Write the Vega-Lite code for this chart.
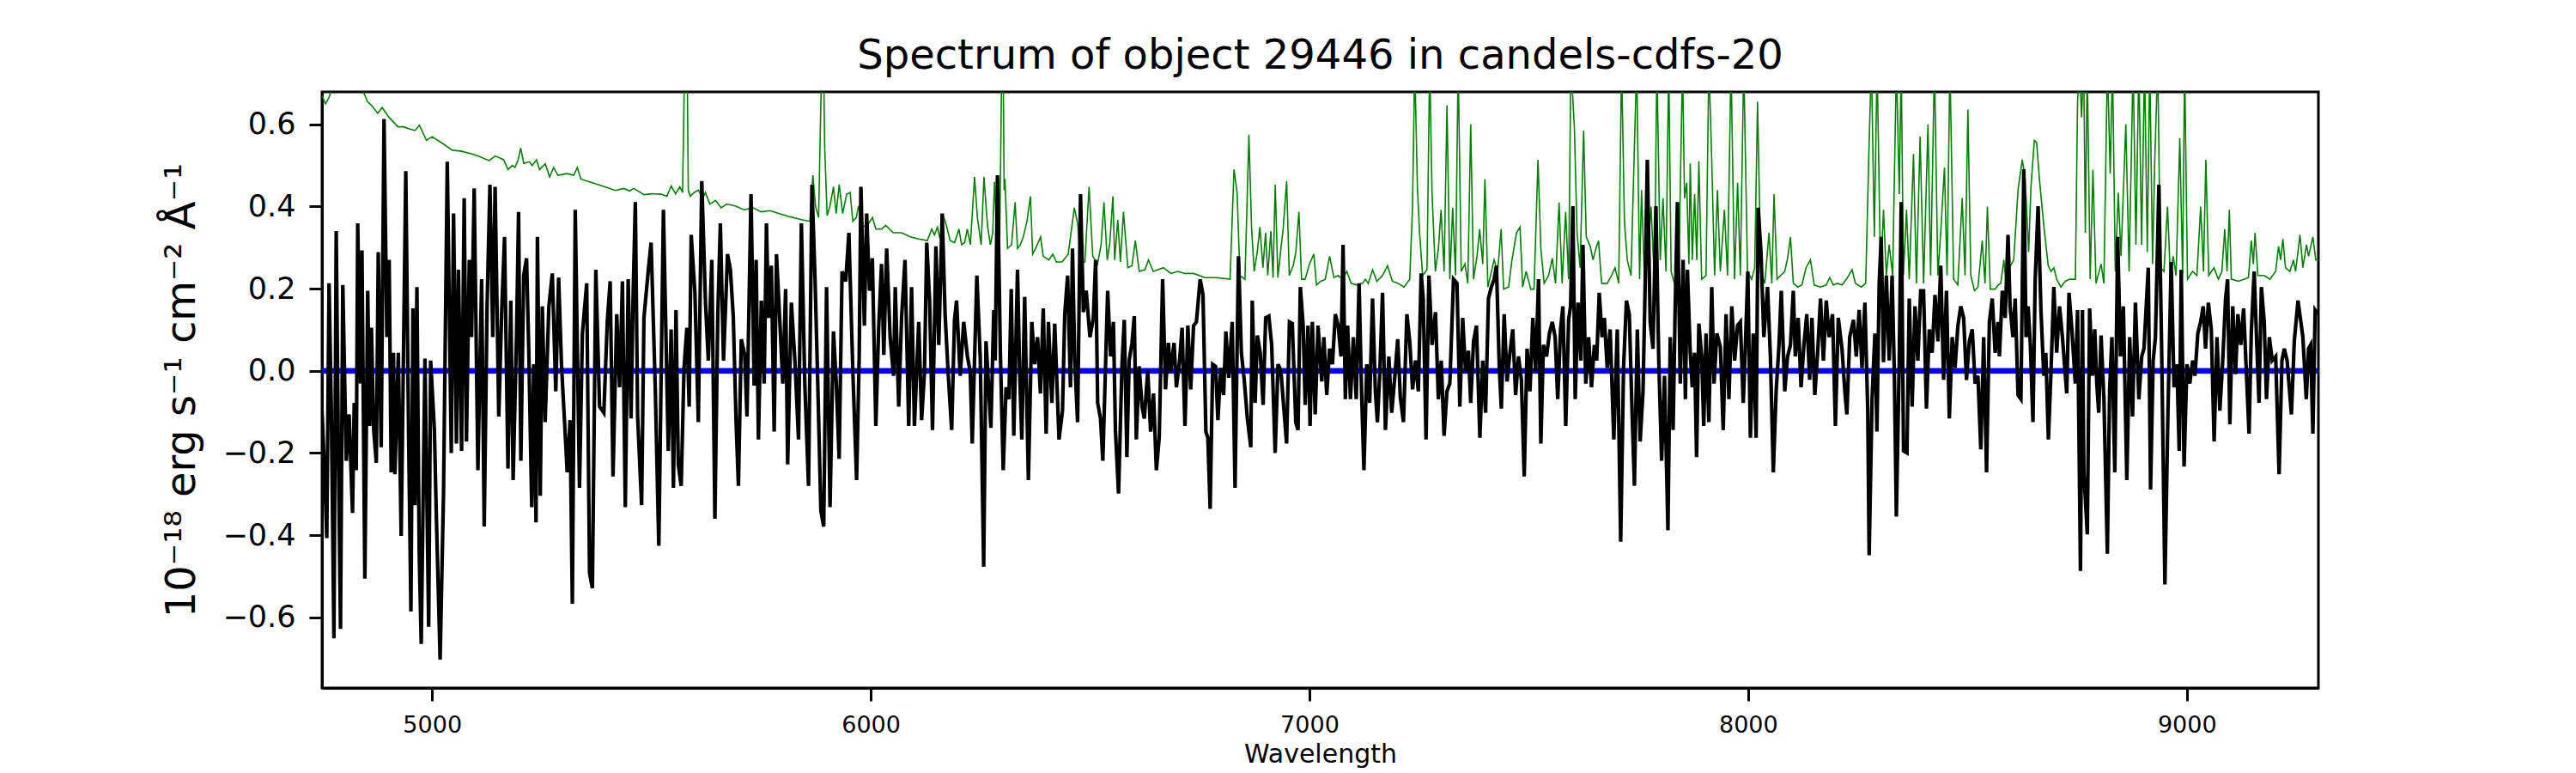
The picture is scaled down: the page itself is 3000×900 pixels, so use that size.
{
  "$schema": "https://vega.github.io/schema/vega-lite/v6.json",
  "autosize": {"type": "none"},
  "padding": {"left": 375, "top": 107, "right": 300, "bottom": 99},
  "width": 2325,
  "height": 694,
  "background": "white",
  "title": {
    "text": "Spectrum of object 29446 in candels-cdfs-20",
    "fontSize": 48,
    "fontWeight": "normal",
    "anchor": "middle",
    "baseline": "alphabetic",
    "offset": 14,
    "dy": 35
  },
  "datasets": {
    "flux": [
      {"w":4749,"f":-0.097},{"w":4755.3,"f":-0.257},{"w":4759.9,"f":-0.407},{"w":4765.1,"f":0.213},{"w":4770.3,"f":-0.097},{"w":4776.2,"f":-0.651},{"w":4781.4,"f":0.34},{"w":4786,"f":-0.163},{"w":4791.2,"f":-0.628},{"w":4796.4,"f":0.209},
      {"w":4804.3,"f":-0.219},{"w":4810.8,"f":-0.106},{"w":4818.6,"f":-0.346},{"w":4822.5,"f":-0.078},{"w":4827.1,"f":-0.242},{"w":4830.4,"f":0.359},{"w":4836.9,"f":-0.031},{"w":4840.1,"f":0.293},{"w":4846.7,"f":-0.506},{"w":4853.2,"f":0.195},
      {"w":4857.8,"f":-0.134},{"w":4861.7,"f":0.105},{"w":4866.9,"f":-0.144},{"w":4872.8,"f":-0.224},{"w":4877.3,"f":0.289},{"w":4883.9,"f":-0.186},{"w":4890.4,"f":0.613},{"w":4896.9,"f":0.082},{"w":4902.1,"f":0.27},{"w":4906.7,"f":-0.247},
      {"w":4911.9,"f":0.044},{"w":4915.2,"f":-0.252},{"w":4923,"f":0.044},{"w":4929.5,"f":-0.402},{"w":4940,"f":0.486},{"w":4946.5,"f":-0.163},{"w":4951.7,"f":-0.586},{"w":4956.3,"f":0.152},{"w":4960.9,"f":-0.327},{"w":4965.4,"f":0.204},
      {"w":4970.6,"f":-0.445},{"w":4975.2,"f":-0.665},{"w":4983.7,"f":0.03},{"w":4992.2,"f":-0.623},{"w":4996.7,"f":0.025},{"w":5005.2,"f":-0.144},{"w":5009.8,"f":-0.36},{"w":5018.3,"f":-0.703},{"w":5026.1,"f":-0.294},{"w":5034.6,"f":0.509},
      {"w":5043.7,"f":-0.2},{"w":5048.9,"f":0.383},{"w":5055.5,"f":-0.177},{"w":5060,"f":0.246},{"w":5067.2,"f":-0.195},{"w":5073.1,"f":0.42},{"w":5078.3,"f":-0.172},{"w":5084.8,"f":0.27},{"w":5090,"f":0.082},{"w":5095.9,"f":0.444},
      {"w":5104.4,"f":-0.242},{"w":5112.9,"f":0.223},{"w":5118.8,"f":-0.379},{"w":5125.3,"f":0.157},{"w":5131.8,"f":0.453},{"w":5138.3,"f":0.082},{"w":5143.6,"f":0.448},{"w":5152,"f":-0.111},{"w":5158.6,"f":0.143},{"w":5165.1,"f":0.326},
      {"w":5172.9,"f":-0.238},{"w":5179.4,"f":0.171},{"w":5184.7,"f":-0.266},{"w":5192.5,"f":0.091},{"w":5197.1,"f":0.387},{"w":5202.3,"f":-0.219},{"w":5208.8,"f":0.232},{"w":5215.3,"f":0.274},{"w":5220.5,"f":0.044},{"w":5227.1,"f":-0.332},
      {"w":5231.6,"f":0.016},{"w":5236.9,"f":-0.369},{"w":5240.1,"f":0.326},{"w":5246.6,"f":-0.304},{"w":5251.2,"f":0.157},{"w":5257.7,"f":-0.125},{"w":5266.2,"f":0.157},{"w":5274,"f":0.237},{"w":5281.9,"f":-0.05},{"w":5288.4,"f":0.227},
      {"w":5294.9,"f":0.016},{"w":5301.5,"f":-0.116},{"w":5308,"f":-0.247},{"w":5314.5,"f":-0.12},{"w":5319.7,"f":-0.567},{"w":5326.3,"f":0.392},{"w":5336,"f":-0.285},{"w":5342.6,"f":0.091},{"w":5352.4,"f":0.213},{"w":5358.9,"f":-0.492},
      {"w":5365.4,"f":-0.529},{"w":5373.2,"f":0.246},{"w":5381.7,"f":-0.087},{"w":5391.5,"f":-0.102},{"w":5399.3,"f":0.119},{"w":5405.9,"f":0.218},{"w":5412.4,"f":-0.257},{"w":5420.9,"f":0.138},{"w":5427.4,"f":-0.04},{"w":5433.9,"f":0.218},
      {"w":5440.4,"f":-0.332},{"w":5447,"f":0.223},{"w":5453.5,"f":-0.116},{"w":5458.1,"f":0.176},{"w":5463.3,"f":0.411},{"w":5468.5,"f":-0.111},{"w":5477.6,"f":-0.327},{"w":5482.9,"f":0.129},{"w":5492.6,"f":0.242},{"w":5499.2,"f":0.312},
      {"w":5508.9,"f":-0.05},{"w":5516.8,"f":-0.426},{"w":5527.3,"f":0.392},{"w":5538.4,"f":-0.195},{"w":5544.9,"f":0.101},{"w":5550.1,"f":-0.285},{"w":5556,"f":0.148},{"w":5561.2,"f":-0.228},{"w":5567.8,"f":-0.28},{"w":5574.3,"f":0.007},
      {"w":5580.8,"f":0.105},{"w":5586,"f":-0.087},{"w":5590.6,"f":0.331},{"w":5599.1,"f":0.19},{"w":5606.9,"f":-0.125},{"w":5614.7,"f":0.462},{"w":5623.2,"f":0.166},{"w":5629.7,"f":0.025},{"w":5637.6,"f":0.27},{"w":5644.7,"f":-0.36},
      {"w":5651.3,"f":0.138},{"w":5657.1,"f":0.359},{"w":5664.3,"f":0.025},{"w":5673.5,"f":0.284},{"w":5680,"f":0.246},{"w":5686.5,"f":0.133},{"w":5693,"f":-0.125},{"w":5698.3,"f":-0.28},{"w":5704.8,"f":0.077},{"w":5712.6,"f":0.039},
      {"w":5717.8,"f":-0.111},{"w":5727,"f":0.43},{"w":5734.1,"f":-0.036},{"w":5738.7,"f":0.27},{"w":5743.9,"f":-0.167},{"w":5750.5,"f":0.171},{"w":5757,"f":-0.031},{"w":5762.2,"f":0.359},{"w":5766.8,"f":0.129},{"w":5773.3,"f":0.256},
      {"w":5779.8,"f":-0.148},{"w":5785,"f":0.284},{"w":5792.9,"f":0.115},{"w":5799.4,"f":-0.031},{"w":5805.9,"f":0.199},{"w":5810.5,"f":-0.228},{"w":5819,"f":0.166},{"w":5827.5,"f":0.016},{"w":5835.3,"f":-0.167},{"w":5841.8,"f":0.359},
      {"w":5849.6,"f":-0.031},{"w":5858.1,"f":-0.28},{"w":5865.9,"f":0.453},{"w":5873.1,"f":0.218},{"w":5879.6,"f":-0.05},{"w":5886.2,"f":-0.341},{"w":5892.7,"f":-0.379},{"w":5899.2,"f":0.204},{"w":5907.1,"f":-0.332},{"w":5914.9,"f":0.096},
      {"w":5921.4,"f":-0.031},{"w":5927.9,"f":-0.214},{"w":5934.5,"f":0.242},{"w":5942.9,"f":0.218},{"w":5950.1,"f":0.336},{"w":5959.3,"f":-0.008},{"w":5967.7,"f":-0.266},{"w":5973.6,"f":0.035},{"w":5977.5,"f":0.448},{"w":5985.4,"f":0.11},
      {"w":5990.6,"f":0.383},{"w":5997.1,"f":0.195},{"w":6003.6,"f":0.274},{"w":6011.5,"f":-0.134},{"w":6018,"f":0.105},{"w":6024.5,"f":0.26},{"w":6029.7,"f":0.039},{"w":6036.2,"f":0.298},{"w":6044.1,"f":0.082},{"w":6051.9,"f":-0.012},
      {"w":6055.8,"f":0.204},{"w":6063.7,"f":-0.087},{"w":6070.2,"f":0.129},{"w":6078,"f":0.27},{"w":6086.5,"f":-0.134},{"w":6093,"f":0.204},{"w":6099.5,"f":-0.134},{"w":6109.3,"f":0.119},{"w":6115.9,"f":-0.12},{"w":6122.4,"f":-0.003},
      {"w":6127.6,"f":0.312},{"w":6134.1,"f":0.171},{"w":6140.7,"f":-0.144},{"w":6148.5,"f":0.303},{"w":6155,"f":0.063},{"w":6162.8,"f":0.383},{"w":6169.4,"f":0.138},{"w":6176.5,"f":-0.008},{"w":6184.4,"f":-0.144},{"w":6190.9,"f":0.124},
      {"w":6195.5,"f":0.171},{"w":6203.9,"f":-0.012},{"w":6211.8,"f":0.119},{"w":6220.3,"f":0.035},{"w":6226.8,"f":-0.003},{"w":6231.3,"f":-0.177},{"w":6241.8,"f":0.232},{"w":6249.6,"f":0.03},{"w":6257.4,"f":-0.477},{"w":6262.7,"f":0.072},
      {"w":6273.8,"f":-0.139},{"w":6280.4,"f":0.148},{"w":6283.6,"f":0.025},{"w":6288.8,"f":0.476},{"w":6295.4,"f":0.044},{"w":6301.9,"f":-0.242},{"w":6308.4,"f":-0.04},{"w":6314.9,"f":-0.069},{"w":6320.2,"f":0.199},{"w":6326,"f":-0.158},
      {"w":6334.5,"f":0.246},{"w":6339.1,"f":0.007},{"w":6344.3,"f":-0.167},{"w":6350.8,"f":0.18},{"w":6359.3,"f":-0.266},{"w":6367.1,"f":0.119},{"w":6373.7,"f":0.016},{"w":6380.2,"f":0.082},{"w":6386.7,"f":-0.055},{"w":6393.2,"f":0.152},
      {"w":6399.8,"f":-0.153},{"w":6405,"f":0.119},{"w":6412.8,"f":-0.078},{"w":6419.3,"f":0.115},{"w":6429.1,"f":-0.167},{"w":6437,"f":-0.097},{"w":6442.2,"f":0.138},{"w":6448.7,"f":0.232},{"w":6455.2,"f":-0.04},{"w":6459.8,"f":0.298},
      {"w":6465,"f":0.025},{"w":6471.5,"f":-0.125},{"w":6478.1,"f":0.43},{"w":6484.6,"f":0.143},{"w":6491.1,"f":0.195},{"w":6499.6,"f":0.082},{"w":6507.4,"f":0.129},{"w":6512.6,"f":0.27},{"w":6517.2,"f":-0.078},{"w":6523.7,"f":-0.116},
      {"w":6529,"f":-0.219},{"w":6540,"f":0.195},{"w":6546.6,"f":0.035},{"w":6553.1,"f":0.119},{"w":6557.7,"f":-0.144},{"w":6564.8,"f":-0.299},{"w":6572.7,"f":0.016},{"w":6577.9,"f":0.124},{"w":6583.8,"f":-0.21},{"w":6589,"f":0.025},
      {"w":6595.5,"f":0.068},{"w":6600.7,"f":0.133},{"w":6605.3,"f":-0.167},{"w":6611.8,"f":0.011},{"w":6618.4,"f":-0.087},{"w":6623.6,"f":-0.116},{"w":6631.4,"f":0.002},{"w":6637.9,"f":-0.148},{"w":6644.5,"f":-0.055},{"w":6651,"f":-0.242},
      {"w":6657.5,"f":-0.163},{"w":6665.3,"f":0.223},{"w":6671.9,"f":-0.045},{"w":6678.4,"f":0.068},{"w":6683.6,"f":-0.003},{"w":6691.4,"f":0.068},{"w":6696.7,"f":-0.04},{"w":6703.2,"f":0.016},{"w":6709.7,"f":0.105},{"w":6716.2,"f":-0.134},
      {"w":6722.8,"f":0.11},{"w":6729.3,"f":-0.045},{"w":6735.8,"f":0.11},{"w":6742.3,"f":0.119},{"w":6750.8,"f":0.223},{"w":6757.3,"f":0.185},{"w":6763.9,"f":-0.148},{"w":6768.4,"f":-0.163},{"w":6773.6,"f":-0.336},{"w":6779.5,"f":0.016},
      {"w":6786,"f":0.011},{"w":6791.3,"f":-0.12},{"w":6797.8,"f":0.007},{"w":6804.3,"f":-0.059},{"w":6809.5,"f":0.096},{"w":6816.1,"f":-0.017},{"w":6823.9,"f":0.119},{"w":6830.4,"f":-0.285},{"w":6838.2,"f":0.279},{"w":6844.8,"f":0.044},
      {"w":6851.3,"f":-0.022},{"w":6858.5,"f":-0.116},{"w":6866.3,"f":-0.186},{"w":6869.6,"f":0.171},{"w":6876.1,"f":-0.078},{"w":6881.3,"f":0.086},{"w":6887.8,"f":0.044},{"w":6894.4,"f":-0.083},{"w":6900.2,"f":0.129},{"w":6907.4,"f":0.133},
      {"w":6913.9,"f":0.063},{"w":6921.8,"f":-0.2},{"w":6928.3,"f":0.016},{"w":6934.8,"f":0.002},{"w":6941.3,"f":-0.087},{"w":6947.9,"f":-0.177},{"w":6954.4,"f":0.119},{"w":6960.9,"f":0.115},{"w":6968.8,"f":-0.125},{"w":6974,"f":-0.144},
      {"w":6979.2,"f":0.204},{"w":6985.7,"f":0.11},{"w":6990.3,"f":-0.083},{"w":6996.8,"f":0.11},{"w":7001.4,"f":-0.134},{"w":7006.6,"f":0.119},{"w":7013.1,"f":-0.106},{"w":7019.6,"f":0.11},{"w":7028.1,"f":-0.026},{"w":7032.9,"f":0.082},
      {"w":7039.4,"f":-0.059},{"w":7045.9,"f":0.054},{"w":7052.4,"f":0.016},{"w":7059,"f":0.138},{"w":7065.5,"f":0.11},{"w":7072,"f":0.035},{"w":7076.6,"f":0.307},{"w":7081.8,"f":-0.069},{"w":7087,"f":0.11},{"w":7093.5,"f":-0.069},
      {"w":7100.1,"f":0.082},{"w":7106.6,"f":-0.069},{"w":7113.1,"f":0.213},{"w":7119,"f":-0.059},{"w":7124.2,"f":-0.242},{"w":7130.7,"f":0.016},{"w":7137.3,"f":-0.078},{"w":7143.8,"f":0.176},{"w":7150.3,"f":-0.05},{"w":7154.9,"f":-0.125},
      {"w":7160.1,"f":-0.012},{"w":7166.6,"f":0.19},{"w":7173.2,"f":-0.144},{"w":7181,"f":0.035},{"w":7187.5,"f":-0.102},{"w":7194,"f":-0.022},{"w":7201.2,"f":0.077},{"w":7207.1,"f":-0.064},{"w":7214.3,"f":-0.125},{"w":7222.1,"f":0.138},
      {"w":7228.6,"f":0.072},{"w":7235.1,"f":-0.045},{"w":7241.7,"f":0.025},{"w":7248.2,"f":-0.05},{"w":7254.7,"f":0.237},{"w":7259.3,"f":0.176},{"w":7265.8,"f":-0.167},{"w":7272.3,"f":0.232},{"w":7279.5,"f":0.063},{"w":7287.3,"f":0.143},
      {"w":7293.9,"f":-0.069},{"w":7300.4,"f":0.025},{"w":7306.9,"f":-0.158},{"w":7313.4,"f":-0.05},{"w":7320,"f":-0.031},{"w":7328.4,"f":0.223},{"w":7336.3,"f":0.213},{"w":7342.8,"f":-0.087},{"w":7349.3,"f":0.129},{"w":7355.9,"f":-0.003},
      {"w":7362.4,"f":0.049},{"w":7367.6,"f":-0.078},{"w":7374.1,"f":0.072},{"w":7380.7,"f":0.11},{"w":7388.5,"f":-0.163},{"w":7395,"f":0.025},{"w":7401.5,"f":-0.102},{"w":7408.1,"f":0.176},{"w":7414.6,"f":0.204},{"w":7421.1,"f":0.223},
      {"w":7426.3,"f":0.256},{"w":7432.8,"f":0.007},{"w":7437.4,"f":-0.092},{"w":7443.9,"f":0.138},{"w":7450.5,"f":-0.026},{"w":7457,"f":0.044},{"w":7463.5,"f":0.101},{"w":7470,"f":-0.059},{"w":7476.6,"f":0.035},{"w":7483.1,"f":-0.022},
      {"w":7489.6,"f":-0.257},{"w":7496.1,"f":0.054},{"w":7502.7,"f":-0.05},{"w":7509.2,"f":0.129},{"w":7515.7,"f":-0.003},{"w":7522.2,"f":0.223},{"w":7527.5,"f":-0.177},{"w":7533.3,"f":0.063},{"w":7540.5,"f":0.035},{"w":7547,"f":0.091},
      {"w":7553.6,"f":0.119},{"w":7560.1,"f":0.082},{"w":7566,"f":-0.069},{"w":7572.5,"f":0.101},{"w":7577.7,"f":0.157},{"w":7584.2,"f":-0.134},{"w":7590.8,"f":0.124},{"w":7595.3,"f":0.157},{"w":7600.5,"f":0.401},{"w":7605.8,"f":-0.069},
      {"w":7612.3,"f":0.166},{"w":7618.8,"f":0.025},{"w":7623.4,"f":0.307},{"w":7629.9,"f":-0.031},{"w":7636.4,"f":0.082},{"w":7643,"f":-0.04},{"w":7649.5,"f":0.063},{"w":7654.7,"f":0.025},{"w":7660.6,"f":0.19},{"w":7667.1,"f":0.082},
      {"w":7672.3,"f":0.129},{"w":7678.8,"f":0.007},{"w":7685.4,"f":0.101},{"w":7693.8,"f":-0.167},{"w":7701.7,"f":0.101},{"w":7709.5,"f":-0.416},{"w":7716,"f":0.007},{"w":7722.6,"f":0.171},{"w":7729.1,"f":0.138},{"w":7735.6,"f":-0.106},
      {"w":7740.8,"f":-0.28},{"w":7747.4,"f":0.101},{"w":7753.9,"f":-0.172},{"w":7760.4,"f":-0.05},{"w":7765,"f":0.195},{"w":7770.2,"f":0.514},{"w":7776.7,"f":0.119},{"w":7783.2,"f":0.054},{"w":7789.8,"f":0.401},{"w":7796.3,"f":0.025},
      {"w":7802.8,"f":-0.219},{"w":7809.4,"f":-0.012},{"w":7817.2,"f":-0.388},{"w":7822.5,"f":0.082},{"w":7829,"f":-0.144},{"w":7833.6,"f":0.148},{"w":7838.8,"f":0.411},{"w":7845.3,"f":-0.031},{"w":7851.8,"f":0.27},{"w":7857,"f":-0.069},
      {"w":7861.6,"f":0.246},{"w":7868.1,"f":0.044},{"w":7872.7,"f":-0.04},{"w":7877.9,"f":0.044},{"w":7882.5,"f":-0.21},{"w":7887.7,"f":0.115},{"w":7894.2,"f":0.035},{"w":7898.8,"f":-0.134},{"w":7904,"f":0.091},{"w":7910.5,"f":-0.125},
      {"w":7917.1,"f":0.204},{"w":7922.3,"f":-0.031},{"w":7928.8,"f":0.091},{"w":7936.7,"f":0.058},{"w":7943.2,"f":-0.144},{"w":7949.7,"f":0.138},{"w":7956.2,"f":-0.069},{"w":7962.8,"f":0.157},{"w":7969.3,"f":0.025},{"w":7975.8,"f":0.11},
      {"w":7982.3,"f":0.119},{"w":7988.9,"f":-0.078},{"w":7994.1,"f":0.072},{"w":7999.3,"f":0.242},{"w":8005.2,"f":-0.163},{"w":8011.7,"f":0.091},{"w":8018.2,"f":-0.163},{"w":8022.8,"f":0.397},{"w":8029.3,"f":0.289},{"w":8035.8,"f":0.082},
      {"w":8044.3,"f":0.204},{"w":8050.8,"f":0.035},{"w":8057.4,"f":-0.247},{"w":8063.9,"f":-0.05},{"w":8070.4,"f":0.063},{"w":8075.6,"f":0.195},{"w":8083.5,"f":-0.05},{"w":8090,"f":0.035},{"w":8096.5,"f":0.063},{"w":8103,"f":0.195},
      {"w":8107.6,"f":0.035},{"w":8114.1,"f":0.129},{"w":8120.7,"f":-0.04},{"w":8127.2,"f":0.063},{"w":8133.7,"f":0.138},{"w":8140.2,"f":-0.022},{"w":8145.5,"f":0.129},{"w":8152,"f":-0.059},{"w":8158.5,"f":0.044},{"w":8165,"f":0.176},
      {"w":8171.6,"f":0.025},{"w":8178.1,"f":0.171},{"w":8184.6,"f":0.082},{"w":8192.4,"f":0.138},{"w":8199,"f":-0.134},{"w":8205.5,"f":0.129},{"w":8214,"f":0.054},{"w":8220.5,"f":-0.05},{"w":8225.1,"f":-0.106},{"w":8231.6,"f":0.082},
      {"w":8240.1,"f":0.124},{"w":8246.6,"f":0.035},{"w":8253.1,"f":0.148},{"w":8259.6,"f":0.007},{"w":8266.2,"f":0.166},{"w":8272.7,"f":-0.097},{"w":8275.9,"f":-0.449},{"w":8282.5,"f":-0.069},{"w":8289,"f":0.091},{"w":8293.6,"f":-0.148},
      {"w":8298.8,"f":0.213},{"w":8303.4,"f":0.326},{"w":8308.6,"f":0.021},{"w":8315.1,"f":0.232},{"w":8321.6,"f":0.025},{"w":8328.2,"f":0.232},{"w":8333.4,"f":-0.012},{"w":8337.9,"f":-0.355},{"w":8344.5,"f":0.025},{"w":8349,"f":0.411},
      {"w":8354.3,"f":-0.195},{"w":8362.1,"f":-0.2},{"w":8367.3,"f":0.176},{"w":8373.8,"f":-0.087},{"w":8380.4,"f":0.157},{"w":8386.9,"f":0.025},{"w":8393.4,"f":0.195},{"w":8399.9,"f":0.195},{"w":8406.5,"f":-0.092},{"w":8413,"f":0.101},
      {"w":8419.5,"f":0.044},{"w":8426,"f":0.185},{"w":8432.6,"f":0.072},{"w":8439.1,"f":0.256},{"w":8445.6,"f":-0.022},{"w":8452.1,"f":0.195},{"w":8458.7,"f":-0.116},{"w":8465.2,"f":0.082},{"w":8471.7,"f":0.007},{"w":8478.2,"f":0.11},
      {"w":8484.8,"f":0.157},{"w":8491.3,"f":0.129},{"w":8497.8,"f":-0.022},{"w":8504.3,"f":0.072},{"w":8510.9,"f":0.101},{"w":8517.4,"f":-0.031},{"w":8523.9,"f":-0.012},{"w":8530.4,"f":-0.191},{"w":8537,"f":0.082},{"w":8543.5,"f":-0.247},
      {"w":8550,"f":0.119},{"w":8556.5,"f":0.176},{"w":8563.1,"f":0.044},{"w":8569.6,"f":0.119},{"w":8572.9,"f":0.035},{"w":8579.4,"f":0.195},{"w":8586,"f":0.129},{"w":8592.5,"f":0.331},{"w":8597.1,"f":0.157},{"w":8603.6,"f":0.082},
      {"w":8608.8,"f":0.176},{"w":8615.3,"f":-0.059},{"w":8621.9,"f":-0.069},{"w":8628.4,"f":0.491},{"w":8633.6,"f":0.082},{"w":8638.2,"f":0.157},{"w":8643.4,"f":0.063},{"w":8649.3,"f":-0.125},{"w":8654.4,"f":0.223},{"w":8661,"f":0.401},
      {"w":8667.5,"f":0.148},{"w":8674,"f":-0.012},{"w":8678.6,"f":0.044},{"w":8684.5,"f":-0.167},{"w":8690.4,"f":-0.003},{"w":8696.9,"f":0.204},{"w":8703.4,"f":0.044},{"w":8709.9,"f":0.157},{"w":8716.5,"f":0.082},{"w":8726.3,"f":-0.055},
      {"w":8731.5,"f":0.19},{"w":8738,"f":0.101},{"w":8745.8,"f":-0.031},{"w":8751,"f":0.148},{"w":8757.6,"f":-0.487},{"w":8762.1,"f":0.148},{"w":8765.4,"f":-0.247},{"w":8773.2,"f":-0.398},{"w":8778.5,"f":0.152},{"w":8785,"f":-0.012},
      {"w":8790.2,"f":0.101},{"w":8794.8,"f":-0.031},{"w":8799.3,"f":-0.102},{"w":8804.6,"f":0.086},{"w":8811.1,"f":-0.069},{"w":8818.9,"f":-0.445},{"w":8824.1,"f":-0.045},{"w":8829.3,"f":0.082},{"w":8835.9,"f":-0.247},{"w":8842.4,"f":0.326},
      {"w":8848.9,"f":0.035},{"w":8855.4,"f":0.157},{"w":8863.3,"f":-0.266},{"w":8869.8,"f":0.082},{"w":8876.3,"f":-0.111},{"w":8882.9,"f":0.166},{"w":8890.7,"f":-0.069},{"w":8897.2,"f":0.035},{"w":8902.4,"f":0.054},{"w":8912.2,"f":0.251},
      {"w":8917.4,"f":-0.289},{"w":8923.3,"f":0.025},{"w":8928.5,"f":0.082},{"w":8936.4,"f":0.453},{"w":8942.9,"f":0.035},{"w":8950.1,"f":-0.52},{"w":8956.6,"f":-0.125},{"w":8964.4,"f":0.265},{"w":8970.9,"f":-0.04},{"w":8977.5,"f":0.016},
      {"w":8982.7,"f":-0.195},{"w":8987.3,"f":0.246},{"w":8993.8,"f":-0.233},{"w":9000.3,"f":0.016},{"w":9006.8,"f":-0.031},{"w":9013.4,"f":0.025},{"w":9018.6,"f":-0.012},{"w":9025.1,"f":0.091},{"w":9031.6,"f":0.119},{"w":9037.5,"f":0.157},
      {"w":9042.7,"f":0.054},{"w":9049.2,"f":0.166},{"w":9055.8,"f":0.101},{"w":9062.3,"f":-0.172},{"w":9068.8,"f":0.082},{"w":9075.3,"f":-0.097},{"w":9081.9,"f":0.025},{"w":9088.4,"f":0.176},{"w":9093,"f":0.223},{"w":9098.2,"f":-0.13},
      {"w":9104.7,"f":0.157},{"w":9111.2,"f":-0.008},{"w":9116.4,"f":0.138},{"w":9123,"f":0.063},{"w":9129.5,"f":0.152},{"w":9135.4,"f":0.007},{"w":9141.9,"f":-0.153},{"w":9147.1,"f":0.096},{"w":9153.6,"f":0.242},{"w":9160.2,"f":0.044},
      {"w":9164.7,"f":-0.078},{"w":9170,"f":0.204},{"w":9176.5,"f":0.119},{"w":9181.7,"f":-0.069},{"w":9188.2,"f":0.082},{"w":9194.7,"f":0.025},{"w":9202.6,"f":0.035},{"w":9210.4,"f":-0.252},{"w":9216.9,"f":0.025},{"w":9222.2,"f":0.054},
      {"w":9228.7,"f":0.025},{"w":9238.5,"f":-0.106},{"w":9245,"f":0.072},{"w":9253.5,"f":0.171},{"w":9260,"f":0.119},{"w":9264.6,"f":0.082},{"w":9272.4,"f":-0.069},{"w":9277.6,"f":0.054},{"w":9282.2,"f":0.063},{"w":9287.4,"f":-0.153},
      {"w":9292.6,"f":0.148},{"w":9299.2,"f":0.138}
    ],
    "sky": [
      {"w":4749,"s":0.67},{"w":4757,"s":0.65},{"w":4765,"s":0.665},{"w":4772,"s":0.69},{"w":4790,"s":0.72},{"w":4820,"s":0.71},{"w":4843,"s":0.68},{"w":4853,"s":0.655},{"w":4863,"s":0.645},{"w":4876,"s":0.627},
      {"w":4886,"s":0.641},{"w":4902,"s":0.617},{"w":4922,"s":0.594},{"w":4935,"s":0.594},{"w":4948,"s":0.589},{"w":4961,"s":0.585},{"w":4971,"s":0.598},{"w":4987,"s":0.561},{"w":5000,"s":0.57},{"w":5026,"s":0.552},
      {"w":5046,"s":0.537},{"w":5065,"s":0.535},{"w":5091,"s":0.528},{"w":5104,"s":0.523},{"w":5130,"s":0.512},{"w":5144,"s":0.523},{"w":5163,"s":0.514},{"w":5173,"s":0.49},{"w":5183,"s":0.5},{"w":5189,"s":0.495},
      {"w":5196,"s":0.514},{"w":5202,"s":0.542},{"w":5209,"s":0.505},{"w":5222,"s":0.509},{"w":5228,"s":0.5},{"w":5238,"s":0.514},{"w":5245,"s":0.49},{"w":5258,"s":0.504},{"w":5268,"s":0.472},{"w":5277,"s":0.495},
      {"w":5287,"s":0.476},{"w":5307,"s":0.48},{"w":5323,"s":0.476},{"w":5331,"s":0.495},{"w":5339,"s":0.467},{"w":5365,"s":0.458},{"w":5391,"s":0.449},{"w":5418,"s":0.439},{"w":5437,"s":0.444},{"w":5450,"s":0.438},
      {"w":5460,"s":0.444},{"w":5483,"s":0.429},{"w":5502,"s":0.431},{"w":5522,"s":0.43},{"w":5535,"s":0.425},{"w":5545,"s":0.45},{"w":5555,"s":0.431},{"w":5564.5,"s":0.448},{"w":5571,"s":0.434},{"w":5575.6,"s":0.75},
      {"w":5581,"s":0.8},{"w":5584,"s":0.44},{"w":5588.6,"s":0.425},{"w":5597,"s":0.434},{"w":5607,"s":0.44},{"w":5617,"s":0.42},{"w":5623,"s":0.434},{"w":5633,"s":0.406},{"w":5646,"s":0.415},{"w":5659,"s":0.397},
      {"w":5672,"s":0.406},{"w":5692,"s":0.401},{"w":5711,"s":0.392},{"w":5731,"s":0.397},{"w":5750,"s":0.387},{"w":5770,"s":0.39},{"w":5790,"s":0.383},{"w":5816,"s":0.375},{"w":5842,"s":0.368},{"w":5861,"s":0.364},
      {"w":5868,"s":0.476},{"w":5874,"s":0.401},{"w":5881,"s":0.373},{"w":5887.5,"s":0.72},{"w":5893,"s":0.7},{"w":5895,"s":0.542},{"w":5900.5,"s":0.378},{"w":5907,"s":0.401},{"w":5915,"s":0.448},{"w":5921,"s":0.383},
      {"w":5928,"s":0.453},{"w":5936,"s":0.383},{"w":5945,"s":0.43},{"w":5953,"s":0.434},{"w":5959,"s":0.364},{"w":5967,"s":0.373},{"w":5972,"s":0.401},{"w":5982,"s":0.35},{"w":5995,"s":0.359},{"w":6004,"s":0.373},
      {"w":6011.5,"s":0.345},{"w":6024.5,"s":0.345},{"w":6034,"s":0.354},{"w":6051,"s":0.336},{"w":6070,"s":0.336},{"w":6090,"s":0.326},{"w":6109,"s":0.321},{"w":6129,"s":0.317},{"w":6139,"s":0.345},{"w":6145,"s":0.331},
      {"w":6152,"s":0.35},{"w":6158,"s":0.321},{"w":6165,"s":0.378},{"w":6171,"s":0.359},{"w":6181,"s":0.317},{"w":6191,"s":0.312},{"w":6201,"s":0.345},{"w":6207,"s":0.307},{"w":6214,"s":0.312},{"w":6220,"s":0.345},
      {"w":6227,"s":0.307},{"w":6236.6,"s":0.472},{"w":6243,"s":0.373},{"w":6251.6,"s":0.307},{"w":6258,"s":0.472},{"w":6266,"s":0.354},{"w":6272.5,"s":0.307},{"w":6278,"s":0.336},{"w":6282,"s":0.46},{"w":6287,"s":0.33},
      {"w":6294,"s":0.33},{"w":6298.6,"s":0.75},{"w":6302,"s":0.72},{"w":6304,"s":0.44},{"w":6306,"s":0.467},{"w":6311.7,"s":0.298},{"w":6321,"s":0.307},{"w":6329,"s":0.41},{"w":6334.5,"s":0.298},{"w":6341,"s":0.307},
      {"w":6347.6,"s":0.326},{"w":6356,"s":0.364},{"w":6364,"s":0.425},{"w":6369,"s":0.284},{"w":6378,"s":0.303},{"w":6387,"s":0.326},{"w":6393,"s":0.279},{"w":6406,"s":0.27},{"w":6415,"s":0.284},{"w":6423,"s":0.265},
      {"w":6436,"s":0.265},{"w":6450,"s":0.284},{"w":6464,"s":0.397},{"w":6471.5,"s":0.359},{"w":6478,"s":0.26},{"w":6488,"s":0.265},{"w":6497.6,"s":0.448},{"w":6506,"s":0.279},{"w":6517,"s":0.26},{"w":6525,"s":0.307},
      {"w":6531.6,"s":0.41},{"w":6539,"s":0.27},{"w":6545,"s":0.312},{"w":6552,"s":0.425},{"w":6556,"s":0.27},{"w":6563,"s":0.368},{"w":6569,"s":0.265},{"w":6576,"s":0.387},{"w":6586,"s":0.251},{"w":6595.5,"s":0.256},
      {"w":6603,"s":0.317},{"w":6612,"s":0.242},{"w":6625,"s":0.246},{"w":6633,"s":0.27},{"w":6644,"s":0.242},{"w":6667,"s":0.251},{"w":6684,"s":0.237},{"w":6700,"s":0.242},{"w":6716,"s":0.237},{"w":6736,"s":0.237},
      {"w":6762,"s":0.227},{"w":6788,"s":0.227},{"w":6819,"s":0.223},{"w":6828,"s":0.49},{"w":6835,"s":0.434},{"w":6841.5,"s":0.232},{"w":6853,"s":0.223},{"w":6862,"s":0.575},{"w":6868,"s":0.35},{"w":6874,"s":0.242},
      {"w":6881,"s":0.289},{"w":6887,"s":0.35},{"w":6894,"s":0.251},{"w":6900,"s":0.336},{"w":6905,"s":0.232},{"w":6912,"s":0.34},{"w":6917,"s":0.227},{"w":6922,"s":0.453},{"w":6928,"s":0.227},{"w":6935,"s":0.298},
      {"w":6940,"s":0.345},{"w":6948,"s":0.462},{"w":6954,"s":0.232},{"w":6963,"s":0.256},{"w":6969,"s":0.289},{"w":6976,"s":0.387},{"w":6982,"s":0.223},{"w":6990,"s":0.223},{"w":7000,"s":0.26},{"w":7010,"s":0.284},
      {"w":7016,"s":0.209},{"w":7026,"s":0.218},{"w":7036,"s":0.223},{"w":7046,"s":0.279},{"w":7055.7,"s":0.227},{"w":7065.5,"s":0.232},{"w":7075,"s":0.223},{"w":7085,"s":0.242},{"w":7095,"s":0.213},{"w":7108,"s":0.209},
      {"w":7121,"s":0.213},{"w":7127.5,"s":0.223},{"w":7134,"s":0.213},{"w":7144,"s":0.246},{"w":7153.6,"s":0.218},{"w":7166.6,"s":0.232},{"w":7178,"s":0.256},{"w":7189,"s":0.218},{"w":7202,"s":0.213},{"w":7215.6,"s":0.204},
      {"w":7228.6,"s":0.223},{"w":7235,"s":0.4},{"w":7240,"s":0.75},{"w":7246,"s":0.45},{"w":7251,"s":0.336},{"w":7258,"s":0.232},{"w":7268,"s":0.246},{"w":7274,"s":0.75},{"w":7279.5,"s":0.43},{"w":7287,"s":0.242},
      {"w":7294,"s":0.298},{"w":7300,"s":0.392},{"w":7307,"s":0.242},{"w":7313.5,"s":0.646},{"w":7320,"s":0.223},{"w":7326.5,"s":0.397},{"w":7333,"s":0.232},{"w":7339,"s":0.75},{"w":7346,"s":0.242},{"w":7354.5,"s":0.26},
      {"w":7361,"s":0.213},{"w":7367.6,"s":0.6},{"w":7374,"s":0.223},{"w":7382,"s":0.279},{"w":7388,"s":0.345},{"w":7395,"s":0.26},{"w":7400,"s":0.467},{"w":7406.8,"s":0.204},{"w":7421,"s":0.27},{"w":7429,"s":0.242},
      {"w":7437,"s":0.345},{"w":7442.6,"s":0.199},{"w":7454,"s":0.204},{"w":7461.6,"s":0.27},{"w":7472,"s":0.336},{"w":7480,"s":0.35},{"w":7486,"s":0.204},{"w":7494,"s":0.242},{"w":7504.6,"s":0.199},{"w":7512,"s":0.199},
      {"w":7521,"s":0.514},{"w":7527.5,"s":0.298},{"w":7535,"s":0.213},{"w":7545,"s":0.232},{"w":7553.6,"s":0.274},{"w":7561,"s":0.213},{"w":7569,"s":0.41},{"w":7576,"s":0.213},{"w":7584,"s":0.387},{"w":7590.8,"s":0.223},
      {"w":7596,"s":0.75},{"w":7604,"s":0.59},{"w":7610,"s":0.336},{"w":7617,"s":0.251},{"w":7625,"s":0.585},{"w":7631,"s":0.326},{"w":7640,"s":0.303},{"w":7646.5,"s":0.27},{"w":7653,"s":0.298},{"w":7659,"s":0.317},
      {"w":7666,"s":0.213},{"w":7679,"s":0.213},{"w":7688.6,"s":0.232},{"w":7696.5,"s":0.251},{"w":7705,"s":0.213},{"w":7711.5,"s":0.75},{"w":7718,"s":0.364},{"w":7724.5,"s":0.27},{"w":7733,"s":0.232},{"w":7739.5,"s":0.495},
      {"w":7746,"s":0.75},{"w":7752.6,"s":0.223},{"w":7757,"s":0.44},{"w":7764,"s":0.213},{"w":7772,"s":0.298},{"w":7778.7,"s":0.4},{"w":7786.5,"s":0.213},{"w":7792,"s":0.75},{"w":7799.6,"s":0.27},{"w":7806,"s":0.42},
      {"w":7812.7,"s":0.242},{"w":7819,"s":0.75},{"w":7824.4,"s":0.242},{"w":7832,"s":0.213},{"w":7842,"s":0.242},{"w":7850.5,"s":0.75},{"w":7855,"s":0.42},{"w":7860,"s":0.458},{"w":7865,"s":0.26},{"w":7868,"s":0.505},
      {"w":7872.7,"s":0.27},{"w":7878,"s":0.43},{"w":7883,"s":0.27},{"w":7887.7,"s":0.51},{"w":7894,"s":0.223},{"w":7904,"s":0.232},{"w":7910.5,"s":0.75},{"w":7917,"s":0.514},{"w":7923.6,"s":0.232},{"w":7930,"s":0.44},
      {"w":7936.6,"s":0.242},{"w":7946,"s":0.392},{"w":7953,"s":0.232},{"w":7961,"s":0.75},{"w":7969,"s":0.223},{"w":7976,"s":0.458},{"w":7982.3,"s":0.232},{"w":7990,"s":0.75},{"w":7998.6,"s":0.242},{"w":8008,"s":0.223},
      {"w":8015,"s":0.251},{"w":8021.5,"s":0.655},{"w":8029,"s":0.242},{"w":8038,"s":0.213},{"w":8047.6,"s":0.336},{"w":8054,"s":0.213},{"w":8059,"s":0.43},{"w":8066,"s":0.223},{"w":8074,"s":0.232},{"w":8083.5,"s":0.242},
      {"w":8090,"s":0.274},{"w":8096.5,"s":0.326},{"w":8103,"s":0.213},{"w":8113,"s":0.204},{"w":8122.6,"s":0.209},{"w":8132,"s":0.251},{"w":8142,"s":0.27},{"w":8150.7,"s":0.209},{"w":8165,"s":0.204},{"w":8178,"s":0.209},
      {"w":8186,"s":0.227},{"w":8194,"s":0.209},{"w":8204,"s":0.213},{"w":8214,"s":0.209},{"w":8224,"s":0.223},{"w":8237,"s":0.246},{"w":8244.6,"s":0.213},{"w":8258,"s":0.204},{"w":8268,"s":0.213},{"w":8276,"s":0.561},
      {"w":8281,"s":0.75},{"w":8287.7,"s":0.326},{"w":8294,"s":0.75},{"w":8302,"s":0.232},{"w":8308.6,"s":0.392},{"w":8315,"s":0.232},{"w":8321.6,"s":0.307},{"w":8329.5,"s":0.232},{"w":8338,"s":0.75},{"w":8344.5,"s":0.43},
      {"w":8349,"s":0.75},{"w":8354,"s":0.232},{"w":8361,"s":0.392},{"w":8367.3,"s":0.223},{"w":8377,"s":0.528},{"w":8383.6,"s":0.213},{"w":8392,"s":0.57},{"w":8400,"s":0.213},{"w":8410,"s":0.6},{"w":8416,"s":0.232},
      {"w":8424.7,"s":0.75},{"w":8432.5,"s":0.232},{"w":8439,"s":0.336},{"w":8447.6,"s":0.495},{"w":8453.5,"s":0.232},{"w":8460,"s":0.75},{"w":8468.5,"s":0.223},{"w":8478,"s":0.209},{"w":8488,"s":0.42},{"w":8494.5,"s":0.232},
      {"w":8501,"s":0.636},{"w":8507.6,"s":0.232},{"w":8516,"s":0.195},{"w":8524,"s":0.204},{"w":8533.7,"s":0.317},{"w":8540,"s":0.213},{"w":8545.5,"s":0.4},{"w":8552,"s":0.199},{"w":8563,"s":0.199},{"w":8570,"s":0.209},
      {"w":8576,"s":0.213},{"w":8583,"s":0.27},{"w":8588,"s":0.213},{"w":8595.7,"s":0.251},{"w":8605.5,"s":0.27},{"w":8615.3,"s":0.44},{"w":8625,"s":0.514},{"w":8631.6,"s":0.467},{"w":8639.5,"s":0.289},{"w":8644.7,"s":0.448},
      {"w":8652.5,"s":0.561},{"w":8657.7,"s":0.556},{"w":8664,"s":0.467},{"w":8674,"s":0.354},{"w":8684,"s":0.256},{"w":8690.4,"s":0.242},{"w":8697,"s":0.251},{"w":8703.4,"s":0.223},{"w":8713,"s":0.204},{"w":8723,"s":0.218},
      {"w":8733,"s":0.223},{"w":8746,"s":0.223},{"w":8751,"s":0.655},{"w":8755.6,"s":0.75},{"w":8760,"s":0.617},{"w":8765,"s":0.75},{"w":8768.7,"s":0.336},{"w":8773,"s":0.75},{"w":8779.7,"s":0.223},{"w":8786,"s":0.49},
      {"w":8793,"s":0.213},{"w":8804.6,"s":0.26},{"w":8811,"s":0.213},{"w":8819,"s":0.75},{"w":8825.4,"s":0.48},{"w":8830.6,"s":0.75},{"w":8837,"s":0.242},{"w":8843.7,"s":0.434},{"w":8850,"s":0.279},{"w":8861,"s":0.6},
      {"w":8868.5,"s":0.242},{"w":8877.6,"s":0.75},{"w":8884,"s":0.307},{"w":8890.7,"s":0.75},{"w":8897,"s":0.307},{"w":8903.7,"s":0.75},{"w":8910,"s":0.289},{"w":8915.5,"s":0.75},{"w":8922,"s":0.26},{"w":8927,"s":0.514},
      {"w":8933.7,"s":0.75},{"w":8940,"s":0.251},{"w":8948,"s":0.242},{"w":8956,"s":0.4},{"w":8962.5,"s":0.232},{"w":8969,"s":0.279},{"w":8975.5,"s":0.232},{"w":8984,"s":0.566},{"w":8990.5,"s":0.232},{"w":8995,"s":0.75},
      {"w":9001.6,"s":0.223},{"w":9013,"s":0.242},{"w":9023,"s":0.232},{"w":9031.6,"s":0.4},{"w":9038,"s":0.242},{"w":9043.4,"s":0.514},{"w":9050,"s":0.232},{"w":9062,"s":0.251},{"w":9072,"s":0.223},{"w":9080,"s":0.242},
      {"w":9086.5,"s":0.345},{"w":9091.7,"s":0.242},{"w":9097,"s":0.392},{"w":9101.5,"s":0.223},{"w":9117.7,"s":0.218},{"w":9131,"s":0.223},{"w":9140.6,"s":0.227},{"w":9147,"s":0.317},{"w":9151.7,"s":0.26},{"w":9155.6,"s":0.336},
      {"w":9162,"s":0.232},{"w":9176.5,"s":0.232},{"w":9189.5,"s":0.223},{"w":9202.6,"s":0.242},{"w":9209,"s":0.303},{"w":9214,"s":0.27},{"w":9219,"s":0.321},{"w":9225,"s":0.251},{"w":9235,"s":0.242},{"w":9243,"s":0.27},
      {"w":9248,"s":0.242},{"w":9258,"s":0.331},{"w":9264.6,"s":0.251},{"w":9273,"s":0.307},{"w":9277.6,"s":0.279},{"w":9287.4,"s":0.326},{"w":9294,"s":0.27},{"w":9300,"s":0.27}
    ]
  },
  "layer": [
    {
      "data": {"name": "sky"},
      "mark": {"type": "line", "color": "#008000", "strokeWidth": 1.6, "clip": true},
      "encoding": {
        "x": {"field": "w", "type": "quantitative"},
        "y": {"field": "s", "type": "quantitative"}
      }
    },
    {
      "data": {"values": [{"model": 0}]},
      "mark": {"type": "rule", "color": "#0000ff", "strokeWidth": 6.5},
      "encoding": {
        "y": {"field": "model", "type": "quantitative"}
      }
    },
    {
      "data": {"name": "flux"},
      "mark": {"type": "line", "color": "#000000", "strokeWidth": 4.2, "clip": true},
      "encoding": {
        "x": {
          "field": "w",
          "type": "quantitative",
          "scale": {"domain": [4749, 9300], "nice": false, "zero": false},
          "axis": {
            "title": "Wavelength",
            "values": [5000, 6000, 7000, 8000, 9000],
            "format": "d",
            "labelFontSize": 27,
            "labelPadding": 15,
            "titleFontSize": 30,
            "titleX": 1162.5,
            "titleY": 86,
            "titleBaseline": "alphabetic"
          }
        },
        "y": {
          "field": "f",
          "type": "quantitative",
          "scale": {"domain": [-0.772, 0.679], "nice": false, "zero": false},
          "axis": {
            "title": "10⁻¹⁸ erg s⁻¹ cm⁻² Å⁻¹",
            "values": [-0.6, -0.4, -0.2, 0, 0.2, 0.4, 0.6],
            "format": ".1f",
            "labelFontSize": 35,
            "labelPadding": 16,
            "titleFontSize": 48,
            "titleAngle": 270,
            "titleAlign": "center",
            "titleBaseline": "alphabetic",
            "titleX": -149,
            "titleY": 347
          }
        }
      }
    }
  ],
  "config": {
    "font": "DejaVu Sans",
    "view": {"stroke": "#000000", "strokeWidth": 3},
    "axis": {
      "grid": false,
      "domain": true,
      "domainColor": "#000000",
      "domainWidth": 3,
      "ticks": true,
      "tickColor": "#000000",
      "tickWidth": 3,
      "tickSize": 15,
      "labelColor": "#000000",
      "titleColor": "#000000",
      "titleFontWeight": "normal",
      "labelFont": "DejaVu Sans",
      "titleFont": "DejaVu Sans",
      "zindex": 1
    },
    "title": {"color": "#000000", "font": "DejaVu Sans"}
  }
}
